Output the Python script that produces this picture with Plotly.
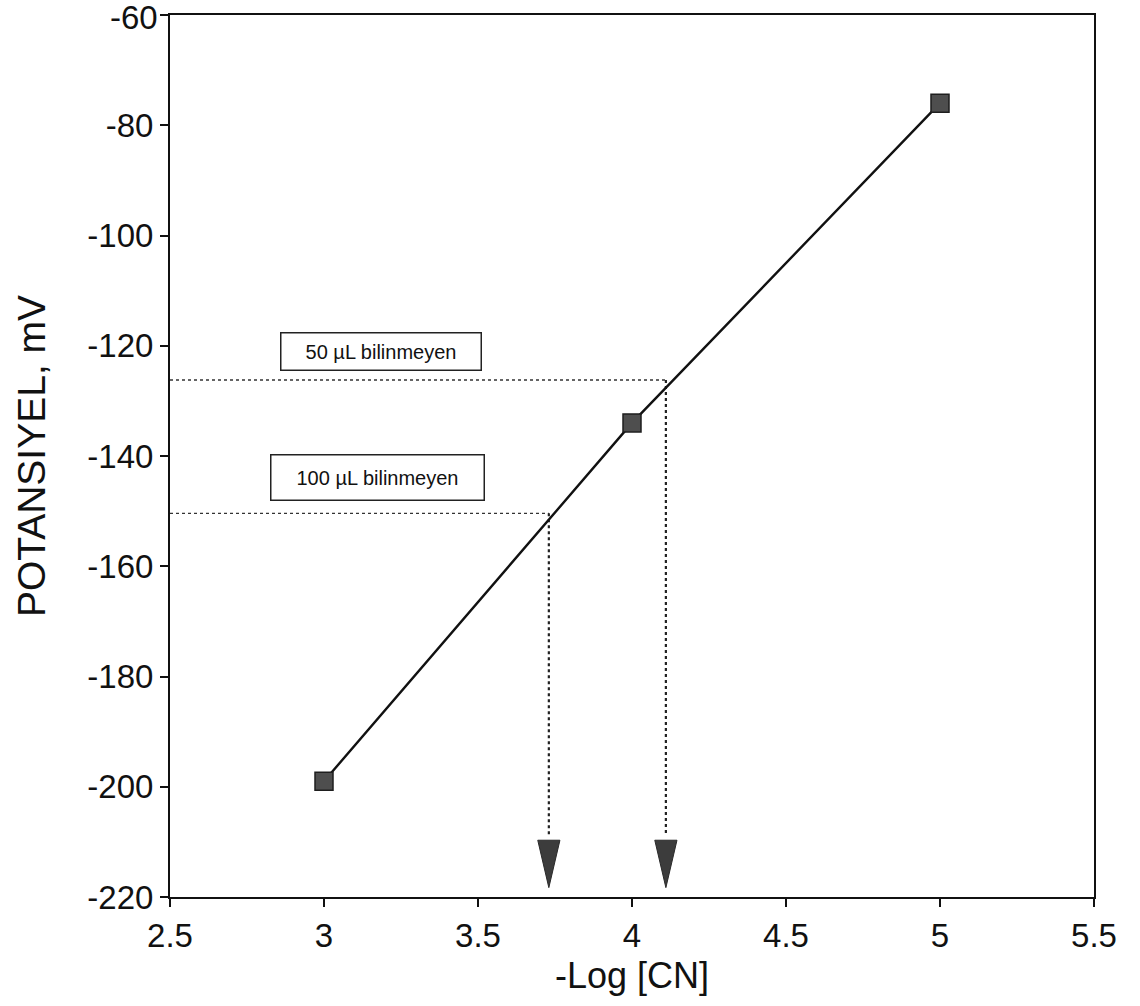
import plotly.graph_objects as go

# ---- data ----
log_cn = [3, 4, 5]
potential_mv = [-199, -134, -76]

unknown_labels = ["50 \u00b5L bilinmeyen", "100 \u00b5L bilinmeyen"]
unknown_potential = [-126.2, -150.4]
unknown_log_cn = [4.11, 3.73]

x_tick_vals = [2.5, 3, 3.5, 4, 4.5, 5, 5.5]
x_tick_text = ["2.5", "3", "3.5", "4", "4.5", "5", "5.5"]
y_tick_vals = [-60, -80, -100, -120, -140, -160, -180, -200, -220]
y_tick_text = ["-60", "-80", "-100", "-120", "-140", "-160", "-180", "-200", "-220"]

x_range = [2.5, 5.5]
y_range = [-220, -60]

# arrow geometry (style, not data)
arrow_base = -209.7
arrow_tip = -218.3
arrow_half_w = 0.036
dot_end = -208.8

FONT = "Liberation Sans, Arial, Helvetica, sans-serif"
INK = "#111111"
TICK_SIZE = 33

fig = go.Figure()

# dotted guide lines + arrow heads
for xv, yv in zip(unknown_log_cn, unknown_potential):
    fig.add_trace(go.Scatter(
        x=[x_range[0], xv], y=[yv, yv],
        mode="lines", line=dict(color="#333333", width=1.4, dash="dot"),
        hoverinfo="skip", showlegend=False))
    fig.add_trace(go.Scatter(
        x=[xv, xv], y=[yv, dot_end],
        mode="lines", line=dict(color="#222222", width=2.2, dash="dot"),
        hoverinfo="skip", showlegend=False))
    fig.add_trace(go.Scatter(
        x=[xv - arrow_half_w, xv + arrow_half_w, xv, xv - arrow_half_w],
        y=[arrow_base, arrow_base, arrow_tip, arrow_base],
        mode="lines", fill="toself", fillcolor="#3c3c3c",
        line=dict(color="#2a2a2a", width=1),
        hoverinfo="skip", showlegend=False))

# calibration line
fig.add_trace(go.Scatter(
    x=log_cn, y=potential_mv, mode="lines+markers",
    line=dict(color=INK, width=2.4),
    marker=dict(symbol="square", size=18, color="#4e4e4e",
                line=dict(color="#1e1e1e", width=1.5)),
    showlegend=False))

ann_pos = [(3.185, -121.0, 195, 32), (3.173, -143.9, 208, 40)]
for (ax, ay, w, h), txt in zip(ann_pos, unknown_labels):
    fig.add_annotation(
        x=ax, y=ay, text=txt, showarrow=False, width=w, height=h,
        font=dict(family=FONT, size=20, color=INK),
        bordercolor="#222222", borderwidth=1.5, borderpad=2,
        bgcolor="white")

# the top tick label sits at the very edge of the page; draw it as text
# in a compact box so it stays fully on the canvas
y_tick_text_axis = [""] + y_tick_text[1:]
fig.add_annotation(
    xref="paper", yref="y", x=0, y=y_tick_vals[0], text=y_tick_text[0],
    showarrow=False, xanchor="right", yanchor="middle", valign="middle",
    height=32, xshift=-10, yshift=-2,
    font=dict(family=FONT, size=TICK_SIZE, color=INK))

axis_common = dict(
    showgrid=False, zeroline=False, automargin=False,
    showline=True, linecolor=INK, linewidth=2, mirror=True,
    ticks="outside", ticklen=8, tickwidth=1.5, tickcolor=INK,
    tickfont=dict(family=FONT, size=TICK_SIZE, color=INK))

fig.update_xaxes(
    range=x_range, tickvals=x_tick_vals, ticktext=x_tick_text,
    title=dict(text="-Log [CN]", font=dict(family=FONT, size=36, color=INK), standoff=10),
    **axis_common)

fig.update_yaxes(
    range=y_range, tickvals=y_tick_vals, ticktext=y_tick_text_axis,
    title=dict(text="POTANSIYEL, mV", font=dict(family=FONT, size=39, color=INK), standoff=30),
    **axis_common)

fig.update_layout(
    width=1140, height=1006,
    margin=dict(l=170, r=46, t=15, b=109),
    paper_bgcolor="white", plot_bgcolor="white",
    showlegend=False)

fig.write_html("out.html", config={"displayModeBar": False},
               post_script="document.body.style.margin='0';")
